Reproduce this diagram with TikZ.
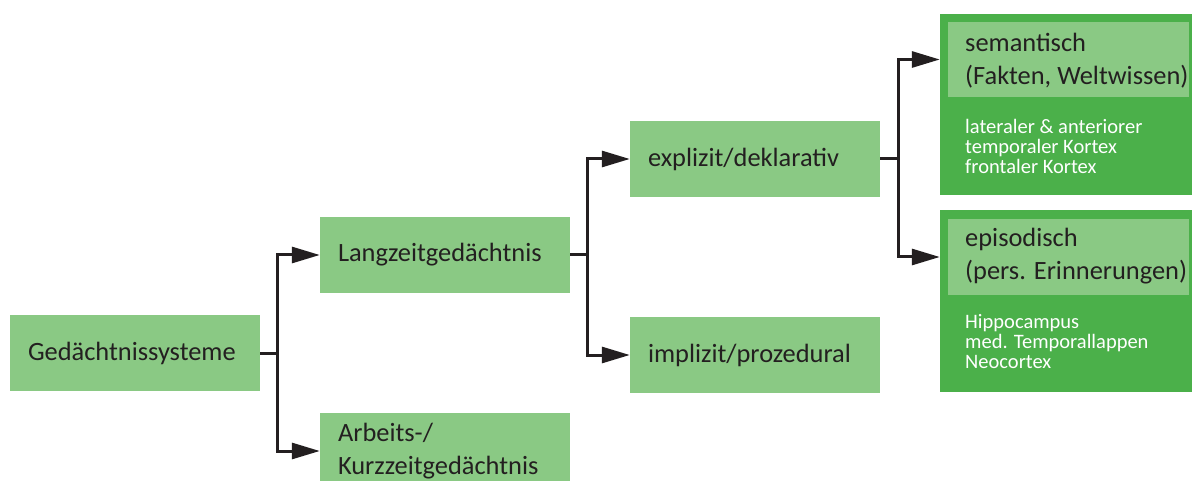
\documentclass[tikz,border=0pt]{standalone}
\usepackage{fontspec}
\setmainfont{Carlito}
\usetikzlibrary{arrows.meta}
\definecolor{lightg}{HTML}{8AC984}
\definecolor{darkg}{HTML}{4BB04A}
\definecolor{ink}{HTML}{231F20}
\begin{document}
\begin{tikzpicture}[x=1pt,y=-1pt,
  box/.style={fill=lightg, minimum width=250pt, minimum height=76pt, text width=214pt,
    inner xsep=18pt, inner ysep=0pt, align=left, font=\fontsize{26.4}{33}\selectfont, text=ink},
  outerbox/.style={fill=darkg, minimum width=252pt, inner sep=0pt},
  innerbox/.style={fill=lightg, minimum width=241pt, inner sep=0pt},
  headtext/.style={anchor=west, inner sep=0pt, align=left, font=\fontsize{26.4}{33}\selectfont, text=ink},
  subtext/.style={anchor=west, inner sep=0pt, align=left, font=\fontsize{20.5}{20}\selectfont, text=white},
  conn/.style={draw=ink, line width=3pt},
  arr/.style={conn, -{Triangle[length=28pt,width=16pt]}}
]
\useasboundingbox (0,0) rectangle (1192,481);
\fill[white] (0,0) rectangle (1192,481);

\node[box] (ged) at (135,353) {Gedächtnissysteme};
\node[box] (lang) at (445,255) {Langzeitgedächtnis};
\node[box] (arb) at (445,451) {Arbeits-/\\Kurzzeitgedächtnis};
\node[box] (expl) at (755,159) {explizit/deklarativ};
\node[box] (impl) at (755,355) {implizit/prozedural};

\node[outerbox, minimum height=181pt] (semO) at (1066,104.5) {};
\node[innerbox, minimum height=75pt] (semI) at (1068.5,59.5) {};
\node[headtext] (semT) at (965,60.5) {semantisch\\(Fakten, Weltwissen)};
\node[subtext] (semS) at (965,146) {lateraler \& anteriorer\\temporaler Kortex\\frontaler Kortex};

\node[outerbox, minimum height=182pt] (epiO) at (1066,301) {};
\node[innerbox, minimum height=76pt] (epiI) at (1068.5,257) {};
\node[headtext] (epiT) at (965,256.5) {episodisch\\(pers. Erinnerungen)};
\node[subtext] (epiS) at (965,342) {Hippocampus\\med. Temporallappen\\Neocortex};

\coordinate (j1) at (277,353);
\coordinate (j2) at (587,255);
\coordinate (j3) at (898,159);

\draw[conn] (ged.east) -- (j1);
\draw[arr] (j1) |- (lang.west);
\draw[arr] (j1) |- (arb.west);
\draw[conn] (lang.east) -- (j2);
\draw[arr] (j2) |- (expl.west);
\draw[arr] (j2) |- (impl.west);
\draw[conn] (expl.east) -- (j3);
\draw[arr] (j3) |- (semO.west |- semI.west);
\draw[arr] (j3) |- (epiO.west |- epiI.west);
\end{tikzpicture}
\end{document}
